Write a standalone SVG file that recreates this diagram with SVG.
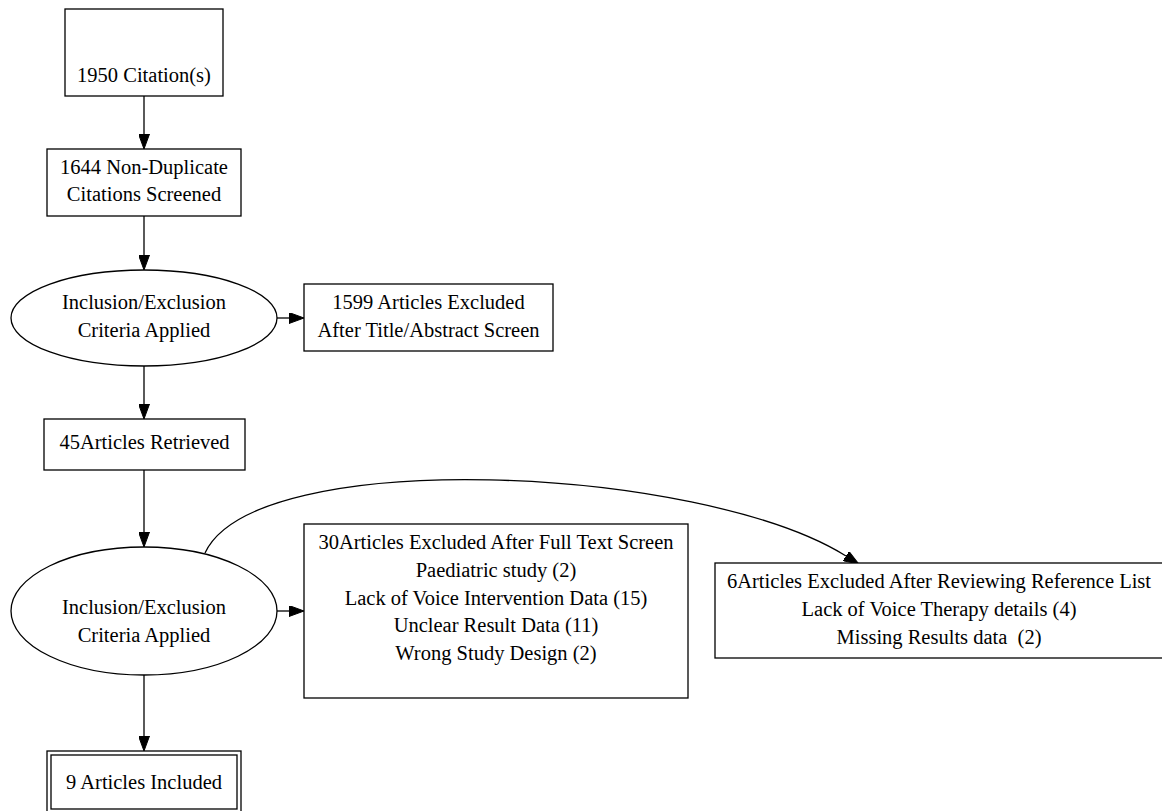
<svg xmlns="http://www.w3.org/2000/svg" width="1162" height="811" viewBox="0 0 1162 811">
<style>
  .node rect, .node ellipse { fill: #fff; stroke: #000; stroke-width: 1.3; }
  .node text { font-family: "Liberation Serif", "Times New Roman", serif; font-size: 20.5px; fill: #000; text-anchor: middle; }
  .edges line, .edges path { stroke: #000; stroke-width: 1.3; fill: none; marker-end: url(#arrow); }
</style>
<defs>
  <marker id="arrow" markerUnits="userSpaceOnUse" markerWidth="15" markerHeight="11" refX="0" refY="5.5" orient="auto">
    <path d="M0,0 L15,5.5 L0,11 z" fill="#000" stroke="#000" stroke-width="1"/>
  </marker>
</defs>
<rect width="1162" height="811" fill="#fff"/>
<g class="edges" id="edges">
  <line x1="144" y1="96" x2="144" y2="134"/>
  <line x1="144" y1="216" x2="144" y2="255"/>
  <line x1="277" y1="318" x2="289" y2="318"/>
  <line x1="144" y1="366" x2="144" y2="404"/>
  <line x1="144" y1="470" x2="144" y2="532"/>
  <line x1="277" y1="611" x2="289" y2="611"/>
  <line x1="144" y1="675" x2="144" y2="736"/>
  <path d="M205,553 C255,445 700,465 846,556"/>
</g>
<g class="node" id="n_citations">
  <rect x="65" y="9" width="158" height="87"/>
  <text x="144" y="82">1950 Citation(s)</text>
</g>
<g class="node" id="n_nondup">
  <rect x="47" y="149" width="194" height="67"/>
  <text x="144" y="174">1644 Non-Duplicate</text>
  <text x="144" y="201">Citations Screened</text>
</g>
<g class="node" id="n_criteria1">
  <ellipse cx="144" cy="318" rx="133" ry="48"/>
  <text x="144" y="309">Inclusion/Exclusion</text>
  <text x="144" y="337">Criteria Applied</text>
</g>
<g class="node" id="n_excl1">
  <rect x="304" y="284" width="249" height="67"/>
  <text x="428.5" y="309">1599 Articles Excluded</text>
  <text x="428.5" y="337">After Title/Abstract Screen</text>
</g>
<g class="node" id="n_retrieved">
  <rect x="44" y="419" width="201" height="51"/>
  <text x="144.5" y="449">45Articles Retrieved</text>
</g>
<g class="node" id="n_criteria2">
  <ellipse cx="144" cy="611" rx="133" ry="64"/>
  <text x="144" y="614">Inclusion/Exclusion</text>
  <text x="144" y="642">Criteria Applied</text>
</g>
<g class="node" id="n_excl2">
  <rect x="304" y="524" width="384" height="174"/>
  <text x="496" y="549">30Articles Excluded After Full Text Screen</text>
  <text x="496" y="577">Paediatric study (2)</text>
  <text x="496" y="605">Lack of Voice Intervention Data (15)</text>
  <text x="496" y="632">Unclear Result Data (11)</text>
  <text x="496" y="660">Wrong Study Design (2)</text>
</g>
<g class="node" id="n_excl3">
  <rect x="715" y="563" width="448" height="95"/>
  <text x="939" y="588">6Articles Excluded After Reviewing Reference List</text>
  <text x="939" y="616">Lack of Voice Therapy details (4)</text>
  <text x="939" y="644" xml:space="preserve">Missing Results data  (2)</text>
</g>
<g class="node" id="n_included">
  <rect x="47" y="751" width="194" height="64"/>
  <rect x="51" y="755" width="186" height="54"/>
  <text x="144" y="789">9 Articles Included</text>
</g>
</svg>
